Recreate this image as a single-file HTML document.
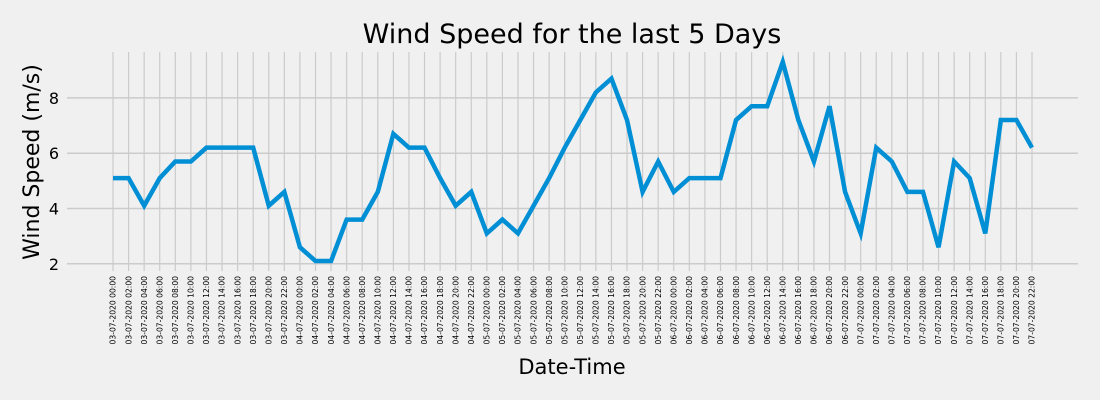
<!DOCTYPE html>
<html><head><meta charset="utf-8"><style>
body{margin:0;background:#f0f0f0;}
svg{display:block;font-family:"DejaVu Sans","Liberation Sans",sans-serif;}
</style></head><body>
<svg id="chart" width="1100" height="400" viewBox="0 0 1100 400">
<rect width="1100" height="400" fill="#f0f0f0"/>
<text x="572" y="43" font-size="27" text-anchor="middle" fill="#000">Wind Speed for the last 5 Days</text>
<text x="572" y="374" font-size="21" text-anchor="middle" fill="#000">Date-Time</text>
<text transform="translate(39,162) rotate(-90)" font-size="22" text-anchor="middle" fill="#000">Wind Speed (m/s)</text>
<g id="grid"></g><g id="ticks"></g><g id="series"></g>
</svg>
<script>
const values=[5.1,5.1,4.1,5.1,5.7,5.7,6.2,6.2,6.2,6.2,4.1,4.6,2.6,2.1,2.1,3.6,3.6,4.6,6.7,6.2,6.2,5.1,4.1,4.6,3.1,3.6,3.1,4.1,5.1,6.2,7.2,8.2,8.7,7.2,4.6,5.7,4.6,5.1,5.1,5.1,7.2,7.7,7.7,9.3,7.2,5.7,7.7,4.6,3.1,6.2,5.7,4.6,4.6,2.6,5.7,5.1,3.1,7.2,7.2,6.2];
const days=["03-07-2020","04-07-2020","05-07-2020","06-07-2020","07-07-2020"];
const hours=["00:00","02:00","04:00","06:00","08:00","10:00","12:00","14:00","16:00","18:00","20:00","22:00"];
const yTicks=[2,4,6,8];
const NS="http://www.w3.org/2000/svg";
const categories=[];
days.forEach(d=>hours.forEach(h=>categories.push(d+" "+h)));
const n=values.length;
const xPad=(n-1)*0.05;
const x0=113,x1=1032;
function xs(i){return x0+(i)*(x1-x0)/(n-1);}
const yTop=52,yBot=271;
const vmin=Math.min(...values),vmax=Math.max(...values),vp=(vmax-vmin)*0.05;
const ylo=vmin-vp,yhi=vmax+vp;
function ys(v){return yBot-(v-ylo)/(yhi-ylo)*(yBot-yTop);}
const grid=document.getElementById('grid'),ticks=document.getElementById('ticks'),series=document.getElementById('series');
const xl=xs(-xPad),xr=xs(n-1+xPad);
yTicks.forEach(t=>{
 const l=document.createElementNS(NS,'line');
 
 
 l.setAttribute('x1',xl);l.setAttribute('x2',xr);l.setAttribute('y1',ys(t));l.setAttribute('y2',ys(t));
 l.setAttribute('stroke','#cbcbcb');l.setAttribute('stroke-width','1.5');grid.appendChild(l);
 const tx=document.createElementNS(NS,'text');
 
 
 tx.setAttribute('x',xl-8);tx.setAttribute('y',ys(t)+6);tx.setAttribute('text-anchor','end');tx.setAttribute('font-size','16');
 tx.textContent=t;ticks.appendChild(tx);
});
categories.forEach((c,i)=>{
 const l=document.createElementNS(NS,'line');
 
 
 l.setAttribute('x1',xs(i));l.setAttribute('x2',xs(i));l.setAttribute('y1',yTop);l.setAttribute('y2',yBot);
 l.setAttribute('stroke','#cbcbcb');l.setAttribute('stroke-width','1.2');grid.appendChild(l);
 const tx=document.createElementNS(NS,'text');
 
 
 tx.setAttribute('transform','translate('+(xs(i)+2.7)+',276) rotate(-90)');
 tx.setAttribute('text-anchor','end');tx.setAttribute('font-size','7.6');
 tx.textContent=c;ticks.appendChild(tx);
});
const p=document.createElementNS(NS,'polyline');


p.setAttribute('points',values.map((v,i)=>xs(i)+','+ys(v)).join(' '));
p.setAttribute('fill','none');p.setAttribute('stroke','#008fd5');p.setAttribute('stroke-width','4.5');p.setAttribute('stroke-linejoin','miter');
series.appendChild(p);
</script>
</body></html>
